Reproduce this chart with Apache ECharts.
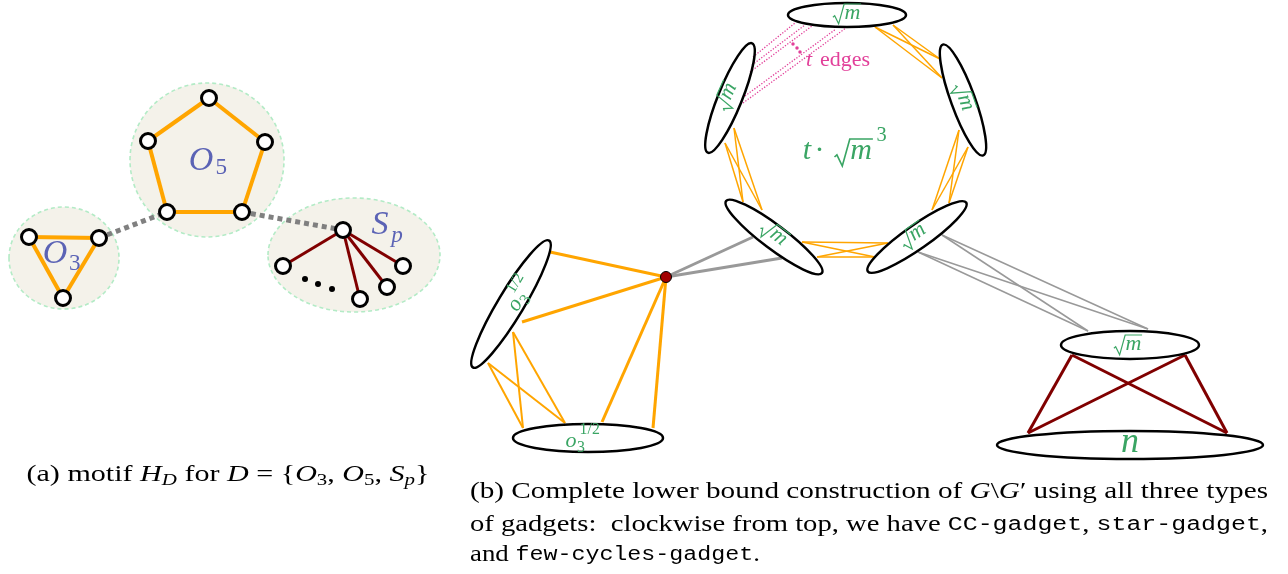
<!DOCTYPE html>
<html>
<head>
<meta charset="utf-8">
<script src="https://cdn.jsdelivr.net/npm/echarts@6/dist/echarts.min.js"></script>
<style>
  html, body { margin: 0; background: #fff; }
  #chart { width: 1288px; height: 574px; }
</style>
</head>
<body>
<div id="chart"></div>
<script>
// ---- panel (a): motif H_D ----
const blobs = [[64, 258, 55, 51], [207, 160, 77, 77], [354, 255, 86, 57]];   // cx, cy, rx, ry
const motifNodes = [
  [29, 237], [99, 238], [63, 298],                          // O3
  [209, 98], [148, 141], [265, 142], [167, 212], [242, 212],  // O5
  [343, 230], [283, 266], [360, 299], [387, 287], [403, 266]  // S_p
];
const motifDots = [[305, 279], [318, 284], [332, 289]];
const cycleEdges = [
  [29, 237, 99, 238], [99, 238, 63, 298], [63, 298, 29, 237],
  [209, 98, 265, 142], [265, 142, 242, 212], [242, 212, 167, 212], [167, 212, 148, 141], [148, 141, 209, 98]
];
const starEdges = [[343, 230, 283, 266], [343, 230, 360, 299], [343, 230, 387, 287], [343, 230, 403, 266]];
const joinEdges = [[99, 238, 167, 212], [242, 212, 343, 230]];

// ---- panel (b): lower bound construction ----
const gadgets = [  // cx, cy, a, b, angle (deg, counter-clockwise)
  [847, 15, 59, 12, 0], [730, 98, 59, 12, 68], [963, 100, 59, 12, -70],
  [774, 237, 60, 12, -37], [917, 237, 60, 12, 35],
  [511, 304, 74, 13, 59], [588, 438, 75, 14, 0],
  [1130, 345, 69, 14, 0], [1130, 445, 133, 14, 0]
];
const hub = [[666, 277]];
const hubEdges = [[666, 277, 550, 252], [666, 277, 522, 322], [666, 277, 602, 422], [666, 277, 653, 428]];
const fewCycleEdges = [[488, 363, 523, 428], [488, 363, 565, 423], [513, 332, 523, 428], [513, 332, 565, 423]];
const ringEdges = [
  [875, 27, 940, 59], [875, 27, 942, 78], [893, 25, 940, 59], [893, 25, 942, 78],
  [959, 130, 932, 210], [959, 130, 949, 203], [968, 147, 932, 210], [968, 147, 949, 203],
  [888, 243, 802, 242], [888, 243, 817, 257], [875, 257, 802, 242], [875, 257, 817, 257],
  [743, 202, 725, 143], [743, 202, 734, 128], [762, 210, 725, 143], [762, 210, 734, 128]
];
const tEdges = [[753, 57, 795, 23], [752, 65, 805, 25], [750, 72, 812, 26], [745, 96, 836, 29], [743, 103, 846, 28]];
const tDots = [[793, 44], [797, 48], [800, 52]];
const hubGrayEdges = [[666, 277, 753, 237], [666, 277, 782, 258]];
const starGrayEdges = [[942, 235, 1088, 331], [942, 235, 1148, 329], [918, 252, 1088, 331], [918, 252, 1148, 329]];
const starRedEdges = [[1072, 355, 1028, 433], [1072, 355, 1227, 433], [1185, 355, 1028, 433], [1185, 355, 1227, 433]];

// math labels: x, y, rotation (deg), size
const labelKinds = ['sqrtm', 'sqrtm', 'sqrtm', 'sqrtm', 'sqrtm', 'sqrtm', 'n', 'o3half', 'o3half', 'tsqrtm3', 'tedges', 'O3', 'O5', 'Sp'];
const labels = [
  [847, 15, 0, 22], [728, 97, 66, 22], [962, 98, -70, 22], [773, 235, -37, 22], [914, 237, 35, 22],
  [1128, 346, 0, 22], [1130, 446, 0, 36], [517, 306, 59, 22], [571, 443, 0, 22],
  [845, 154, 0, 30], [809, 60, 0, 22], [55, 254, 0, 34], [201, 161, 0, 34], [380, 225, 0, 34]
];

const SERIF = '"Liberation Serif", "DejaVu Serif", serif';
const MONO = '"Liberation Mono", "DejaVu Sans Mono", monospace';
const GREEN = '#3aa564', PINK = '#e2409a', PURPLE = '#5b63b5';

function txt(str, x, y, size, color, italic, align) {
  return { type: 'text', x, y, style: { text: str, fontSize: size, fontFamily: SERIF,
    fontStyle: italic ? 'italic' : 'normal', fill: color, align: align || 'center', verticalAlign: 'middle' } };
}
function sqrtM(s, color, dx) {
  return [
    { type: 'polyline', shape: { points: [[dx - 0.64 * s, 0.1 * s], [dx - 0.56 * s, 0.03 * s], [dx - 0.38 * s, 0.4 * s],
      [dx - 0.13 * s, -0.5 * s], [dx + 0.64 * s, -0.5 * s]] },
      style: { stroke: color, fill: 'none', lineWidth: Math.max(1, 0.055 * s) } },
    txt('m', dx + 0.25 * s, -0.1 * s, s, color, true)
  ];
}
function labelParts(kind, s) {
  switch (kind) {
    case 'sqrtm': return sqrtM(s, GREEN, 0);
    case 'n': return [txt('n', 0, -0.1 * s, s, GREEN, true)];
    case 'o3half': return [txt('o', 0, -0.1 * s, s, GREEN, true), txt('3', 0.45 * s, 0.2 * s, 0.72 * s, GREEN),
      txt('1/2', 0.85 * s, -0.6 * s, 0.72 * s, GREEN)];
    case 'tsqrtm3': return [txt('t', -1.27 * s, -0.1 * s, s, GREEN, true), txt('·', -0.85 * s, -0.1 * s, s, GREEN),
      ...sqrtM(s, GREEN, 0.29 * s), txt('3', 1.22 * s, -0.62 * s, 0.68 * s, GREEN)];
    case 'tedges': return [txt('t', 0, 0, s, PINK, true), txt('edges', 0.5 * s, 0, s, PINK, false, 'left')];
    case 'O3': return [txt('O', 0, 0, s, PURPLE, true), txt('3', 0.58 * s, 0.28 * s, 0.68 * s, PURPLE)];
    case 'O5': return [txt('O', 0, 0, s, PURPLE, true), txt('5', 0.6 * s, 0.2 * s, 0.68 * s, PURPLE)];
    case 'Sp': return [txt('S', 0, 0, s, PURPLE, true), txt('p', 0.5 * s, 0.32 * s, 0.68 * s, PURPLE, true)];
  }
  return [];
}

const ovalSeries = (data, style, z) => ({
  type: 'custom', data, z, silent: true, clip: false,
  renderItem: (params, api) => {
    const c = api.coord([api.value(0), api.value(1)]);
    const sz = api.size([api.value(2), api.value(3)]);
    return { type: 'ellipse', x: c[0], y: c[1], rotation: (api.value(4) || 0) * Math.PI / 180,
      shape: { cx: 0, cy: 0, rx: sz[0], ry: sz[1] }, style };
  }
});
const edgeSeries = (data, lineStyle, z) => ({
  type: 'lines', coordinateSystem: 'cartesian2d', z, silent: true,
  data: data.map((e) => ({ coords: [[e[0], e[1]], [e[2], e[3]]] })),
  lineStyle: Object.assign({ opacity: 1, cap: 'butt' }, lineStyle)
});
const dotSeries = (data, size, itemStyle, z) => ({
  type: 'scatter', data, z, silent: true, symbol: 'circle', symbolSize: size, itemStyle
});

// ---- captions ----
const ctx = document.createElement('canvas').getContext('2d');
const capStyles = {
  i: { fontSize: 23, fontFamily: SERIF, fontStyle: 'italic' },
  sub: { fontSize: 16, fontFamily: SERIF, verticalAlign: 'bottom', lineHeight: 16 },
  subi: { fontSize: 16, fontFamily: SERIF, fontStyle: 'italic', verticalAlign: 'bottom', lineHeight: 16 },
  tt: { fontSize: 20, fontFamily: MONO }
};
function measure(pieces) {
  return pieces.reduce((w, [t, k]) => {
    const st = capStyles[k] || { fontSize: 23, fontFamily: SERIF };
    ctx.font = `${st.fontStyle || 'normal'} ${st.fontSize}px ${st.fontFamily}`;
    return w + ctx.measureText(t).width;
  }, 0);
}
function caption(pieces, x, y, width, align) {
  const text = pieces.map(([t, k]) => (k === 'rm' ? t : `{${k}|${t}}`)).join('');
  return { type: 'text', x, y, scaleX: width / measure(pieces), silent: true,
    style: { text, rich: capStyles, fontSize: 23, fontFamily: SERIF, fill: '#000', align, verticalAlign: 'middle', lineHeight: 27 } };
}
const captionA = [['(a) motif ', 'rm'], ['H', 'i'], ['D', 'subi'], [' for ', 'rm'], ['D', 'i'], [' = {', 'rm'],
  ['O', 'i'], ['3', 'sub'], [', ', 'rm'], ['O', 'i'], ['5', 'sub'], [', ', 'rm'], ['S', 'i'], ['p', 'subi'], ['}', 'rm']];
const captionB1 = [['(b) Complete lower bound construction of ', 'rm'], ['G', 'i'], ['\\', 'rm'], ['G', 'i'], ['′ using all three types', 'rm']];
const captionB2 = [['of gadgets:  clockwise from top, we have ', 'rm'], ['CC-gadget', 'tt'], [', ', 'rm'], ['star-gadget', 'tt'], [',', 'rm']];
const captionB3 = [['and ', 'rm'], ['few-cycles-gadget', 'tt'], ['.', 'rm']];

const chart = echarts.init(document.getElementById('chart'));
chart.setOption({
  animation: false,
  grid: { left: 0, right: 0, top: 0, bottom: 0 },
  xAxis: { type: 'value', min: 0, max: 1288, show: false },
  yAxis: { type: 'value', min: 0, max: 574, inverse: true, show: false },
  series: [
    ovalSeries(blobs, { fill: '#f4f2ea', stroke: '#b3ebc6', lineWidth: 1.6, lineDash: [4, 3] }, 1),
    edgeSeries(joinEdges, { color: '#808080', width: 5, type: [5, 4] }, 2),
    edgeSeries(cycleEdges, { color: '#ffa500', width: 4 }, 2),
    edgeSeries(starEdges, { color: '#800000', width: 3 }, 2),
    edgeSeries(hubEdges, { color: '#ffa500', width: 3 }, 2),
    edgeSeries(fewCycleEdges, { color: '#ffa500', width: 2 }, 2),
    edgeSeries(ringEdges, { color: '#ffa500', width: 1.5 }, 2),
    edgeSeries(tEdges, { color: PINK, width: 1.3, type: [1.3, 1.6] }, 2),
    edgeSeries(hubGrayEdges, { color: '#999999', width: 3 }, 2),
    edgeSeries(starGrayEdges, { color: '#999999', width: 1.5 }, 2),
    edgeSeries(starRedEdges, { color: '#800000', width: 3 }, 2),
    ovalSeries(gadgets, { fill: 'none', stroke: '#000', lineWidth: 2.5 }, 3),
    dotSeries(motifNodes, 15, { color: '#fff', borderColor: '#000', borderWidth: 3, opacity: 1 }, 4),
    dotSeries(motifDots, 6, { color: '#000', opacity: 1 }, 4),
    dotSeries(tDots, 3.5, { color: PINK, opacity: 1 }, 4),
    dotSeries(hub, 11, { color: '#a30000', borderColor: '#000', borderWidth: 1, opacity: 1 }, 4),
    {
      type: 'custom', data: labels, z: 5, silent: true, clip: false,
      renderItem: (params, api) => {
        const c = api.coord([api.value(0), api.value(1)]);
        return { type: 'group', x: c[0], y: c[1], rotation: api.value(2) * Math.PI / 180,
          children: labelParts(labelKinds[params.dataIndex], api.value(3)) };
      }
    }
  ],
  graphic: [
    caption(captionA, 228, 475, 403, 'center'),
    caption(captionB1, 470, 492, 798, 'left'),
    caption(captionB2, 470, 525, 798, 'left'),
    caption(captionB3, 470, 555, 290, 'left')
  ]
});
</script>
</body>
</html>
